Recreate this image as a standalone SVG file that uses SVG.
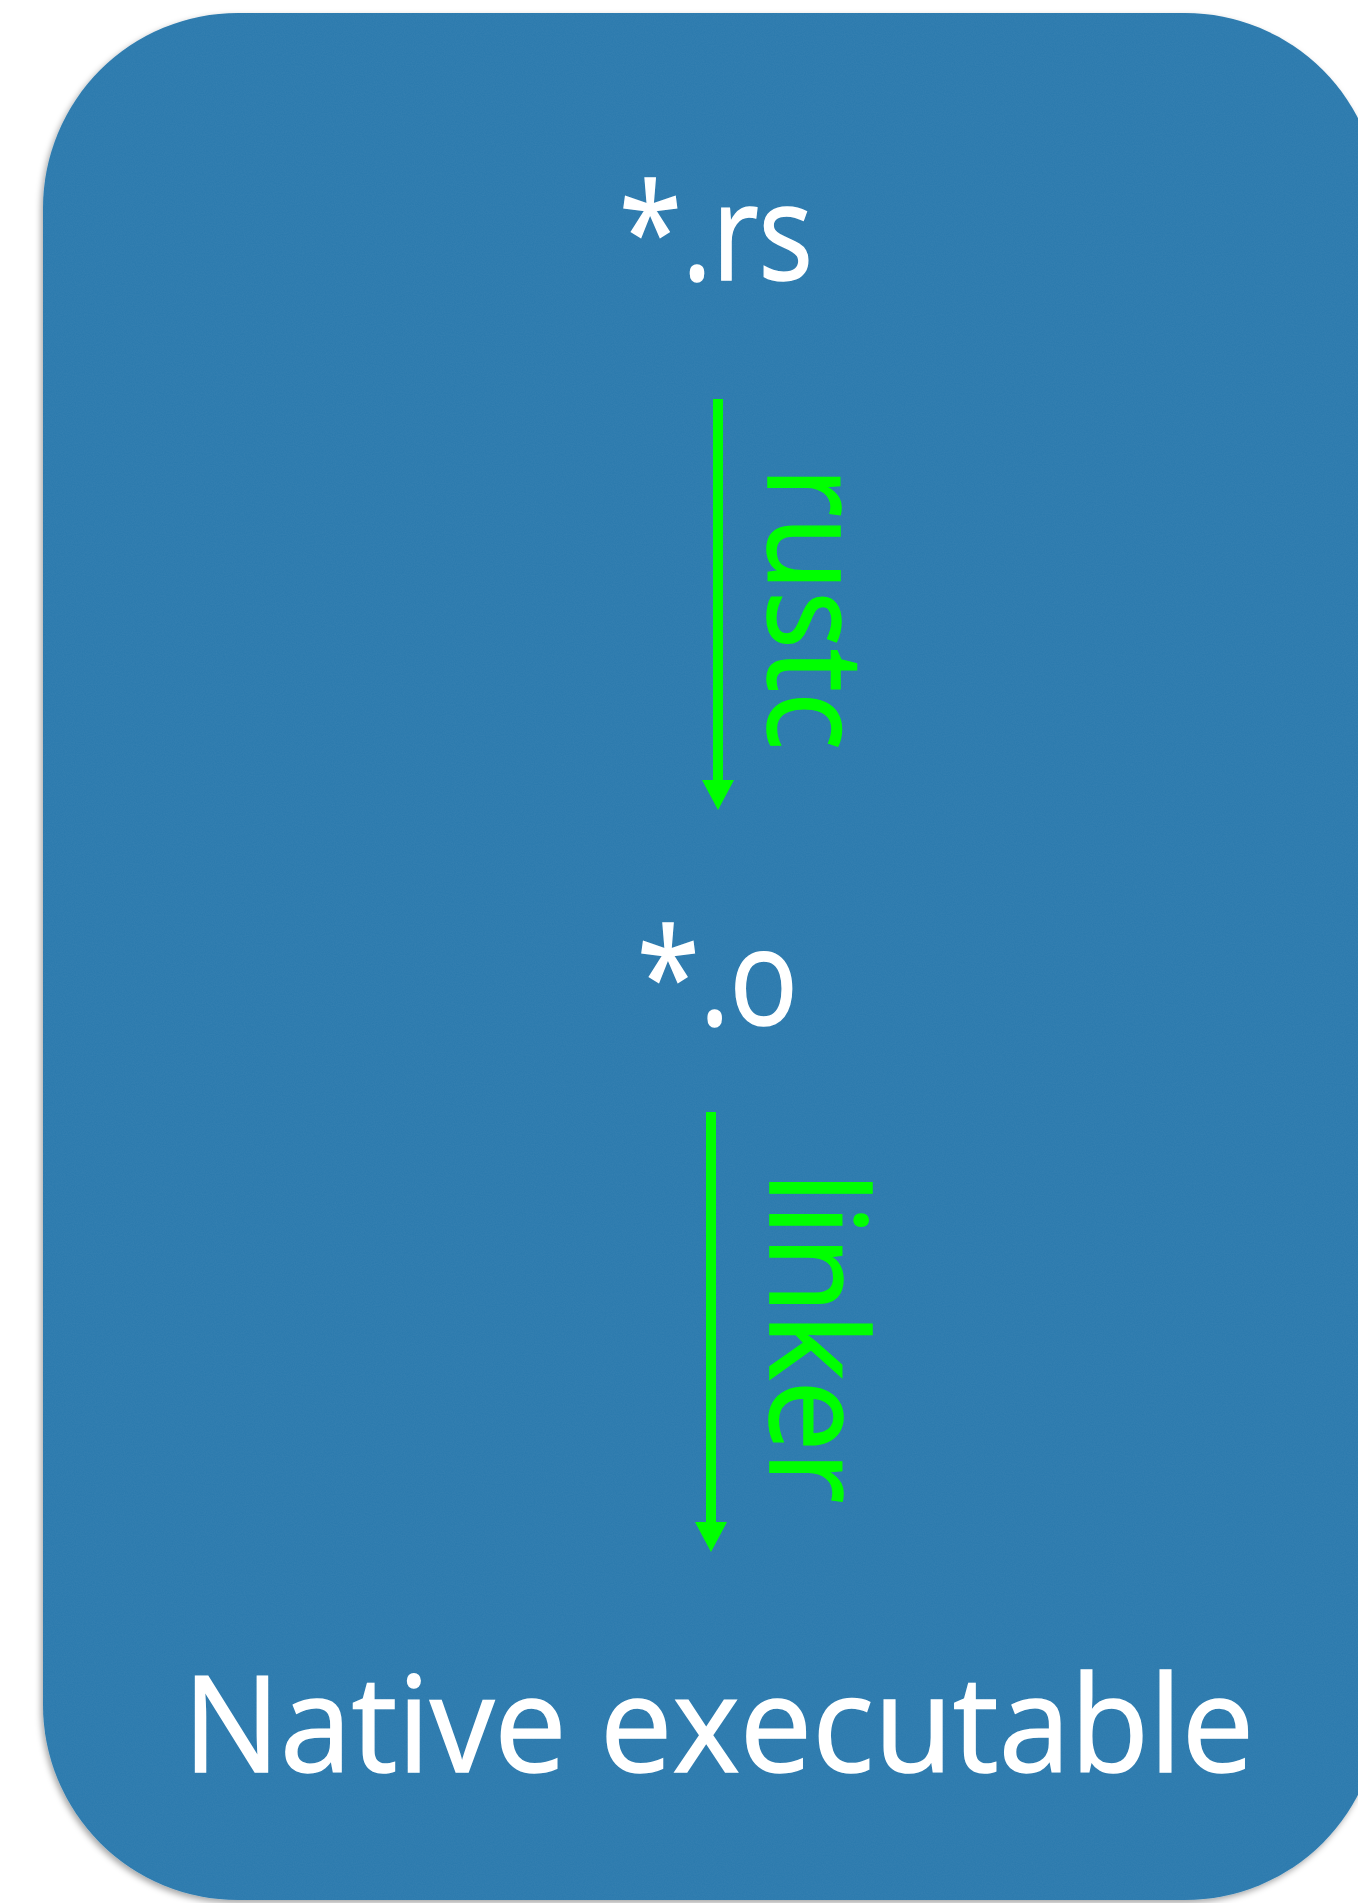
<svg xmlns="http://www.w3.org/2000/svg" width="1358" height="1903" viewBox="0 0 1358 1903">
  <style>
    .node-label { font-family: "Open Sans", "Noto Sans", "Liberation Sans", sans-serif; font-size: 134px; font-weight: 400; fill: #ffffff; stroke: #ffffff; stroke-width: 1.5; }
    .edge-label { font-family: "Open Sans", "Noto Sans", "Liberation Sans", sans-serif; font-size: 134px; font-weight: 400; fill: #00ff00; stroke: #00ff00; stroke-width: 1.5; }
    .edge { stroke: #00ff00; stroke-width: 10; fill: none; }
    .arrowhead { fill: #00ff00; }
  </style>
  <defs>
    <filter id="shadow" x="-5%" y="-5%" width="110%" height="110%">
      <feDropShadow dx="-2" dy="3" stdDeviation="3" flood-color="#000000" flood-opacity="0.35"/>
    </filter>
    <filter id="paper" x="0" y="0" width="100%" height="100%">
      <feTurbulence type="fractalNoise" baseFrequency="0.9" numOctaves="2" seed="3" result="noise"/>
      <feColorMatrix in="noise" type="matrix" values="0 0 0 0 1  0 0 0 0 1  0 0 0 0 1  0 0 0 0.05 0" result="speck"/>
      <feComposite in="speck" in2="SourceGraphic" operator="in"/>
    </filter>
  </defs>

  <g id="background">
    <rect x="43" y="13" width="1337" height="1887" rx="195" ry="195" fill="#2a79ad" filter="url(#shadow)"/>
    <rect x="43" y="13" width="1337" height="1887" rx="195" ry="195" fill="#2a79ad" filter="url(#paper)"/>
  </g>

  <g id="connectors">
    <g id="edge-rustc">
      <line class="edge" x1="718" y1="399" x2="718" y2="780"/>
      <path class="arrowhead" d="M702,780 L734,780 L718,810 Z"/>
      <text class="edge-label" transform="translate(768,467) rotate(90)" textLength="283" lengthAdjust="spacingAndGlyphs">rustc</text>
    </g>
    <g id="edge-linker">
      <line class="edge" x1="711" y1="1112" x2="711" y2="1522"/>
      <path class="arrowhead" d="M695,1522 L727,1522 L711,1552 Z"/>
      <text class="edge-label" transform="translate(770,1172) rotate(90)" textLength="331" lengthAdjust="spacingAndGlyphs">linker</text>
    </g>
  </g>

  <g id="node-rs">
    <text class="node-label" x="619" y="280" textLength="194" lengthAdjust="spacingAndGlyphs">*.rs</text>
  </g>
  <g id="node-o">
    <text class="node-label" x="637" y="1025" textLength="161" lengthAdjust="spacingAndGlyphs">*.o</text>
  </g>
  <g id="node-exe">
    <text class="node-label" x="183" y="1772" textLength="1071" lengthAdjust="spacingAndGlyphs">Native executable</text>
  </g>
</svg>
